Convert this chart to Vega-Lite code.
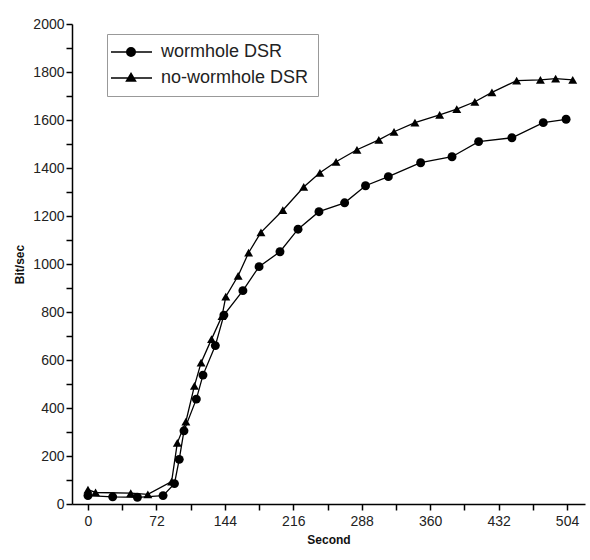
{
  "$schema": "https://vega.github.io/schema/vega-lite/v6.json",
  "width": 513,
  "height": 480,
  "autosize": {"type": "none"},
  "padding": {"left": 72, "top": 24, "right": 5, "bottom": 56},
  "background": "white",
  "config": {
    "view": {"stroke": null},
    "font": "Liberation Sans",
    "axis": {
      "domainColor": "black",
      "domainWidth": 1.5,
      "tickColor": "black",
      "tickWidth": 1.5,
      "tickSize": 6,
      "grid": false,
      "labelFont": "Liberation Sans",
      "labelFontSize": 14,
      "labelColor": "#222",
      "titleFont": "Liberation Sans",
      "titleFontSize": 12,
      "titleFontWeight": "bold",
      "titleColor": "#111"
    }
  },
  "data": {
    "values": [
      {"series": "wormhole DSR", "second": 0, "rate": 35},
      {"series": "wormhole DSR", "second": 26, "rate": 30},
      {"series": "wormhole DSR", "second": 52, "rate": 28},
      {"series": "wormhole DSR", "second": 79, "rate": 35},
      {"series": "wormhole DSR", "second": 91, "rate": 85},
      {"series": "wormhole DSR", "second": 96, "rate": 186},
      {"series": "wormhole DSR", "second": 101, "rate": 305},
      {"series": "wormhole DSR", "second": 114, "rate": 437},
      {"series": "wormhole DSR", "second": 121, "rate": 537},
      {"series": "wormhole DSR", "second": 134, "rate": 660},
      {"series": "wormhole DSR", "second": 143, "rate": 787},
      {"series": "wormhole DSR", "second": 163, "rate": 889},
      {"series": "wormhole DSR", "second": 180, "rate": 989},
      {"series": "wormhole DSR", "second": 202, "rate": 1051},
      {"series": "wormhole DSR", "second": 221, "rate": 1145},
      {"series": "wormhole DSR", "second": 243, "rate": 1218},
      {"series": "wormhole DSR", "second": 270, "rate": 1255},
      {"series": "wormhole DSR", "second": 292, "rate": 1326},
      {"series": "wormhole DSR", "second": 316, "rate": 1364},
      {"series": "wormhole DSR", "second": 350, "rate": 1422},
      {"series": "wormhole DSR", "second": 383, "rate": 1447},
      {"series": "wormhole DSR", "second": 411, "rate": 1510},
      {"series": "wormhole DSR", "second": 446, "rate": 1526},
      {"series": "wormhole DSR", "second": 479, "rate": 1589},
      {"series": "wormhole DSR", "second": 503, "rate": 1603},
      {"series": "no-wormhole DSR", "second": 0, "rate": 60},
      {"series": "no-wormhole DSR", "second": 8, "rate": 48},
      {"series": "no-wormhole DSR", "second": 45, "rate": 45},
      {"series": "no-wormhole DSR", "second": 63, "rate": 40},
      {"series": "no-wormhole DSR", "second": 88, "rate": 93},
      {"series": "no-wormhole DSR", "second": 94, "rate": 255},
      {"series": "no-wormhole DSR", "second": 103, "rate": 343},
      {"series": "no-wormhole DSR", "second": 112, "rate": 492},
      {"series": "no-wormhole DSR", "second": 119, "rate": 589},
      {"series": "no-wormhole DSR", "second": 130, "rate": 687},
      {"series": "no-wormhole DSR", "second": 141, "rate": 783},
      {"series": "no-wormhole DSR", "second": 145, "rate": 864},
      {"series": "no-wormhole DSR", "second": 158, "rate": 951},
      {"series": "no-wormhole DSR", "second": 169, "rate": 1047},
      {"series": "no-wormhole DSR", "second": 182, "rate": 1132},
      {"series": "no-wormhole DSR", "second": 205, "rate": 1224},
      {"series": "no-wormhole DSR", "second": 227, "rate": 1321},
      {"series": "no-wormhole DSR", "second": 244, "rate": 1380},
      {"series": "no-wormhole DSR", "second": 261, "rate": 1426},
      {"series": "no-wormhole DSR", "second": 283, "rate": 1476},
      {"series": "no-wormhole DSR", "second": 306, "rate": 1517},
      {"series": "no-wormhole DSR", "second": 322, "rate": 1551},
      {"series": "no-wormhole DSR", "second": 344, "rate": 1589},
      {"series": "no-wormhole DSR", "second": 370, "rate": 1621},
      {"series": "no-wormhole DSR", "second": 388, "rate": 1645},
      {"series": "no-wormhole DSR", "second": 407, "rate": 1676},
      {"series": "no-wormhole DSR", "second": 425, "rate": 1715},
      {"series": "no-wormhole DSR", "second": 451, "rate": 1764},
      {"series": "no-wormhole DSR", "second": 476, "rate": 1767},
      {"series": "no-wormhole DSR", "second": 492, "rate": 1772},
      {"series": "no-wormhole DSR", "second": 510, "rate": 1767}
    ]
  },
  "encoding": {
    "x": {
      "field": "second",
      "type": "quantitative",
      "scale": {"domain": [-16.8, 522.9], "nice": false, "zero": false},
      "axis": {
        "title": "Second",
        "values": [0, 36, 72, 108, 144, 180, 216, 252, 288, 324, 360, 396, 432, 468, 504],
        "labelExpr": "datum.value % 72 === 0 ? datum.label : ''",
        "labelPadding": 4,
        "titlePadding": 6,
        "labelFlush": false
      }
    },
    "y": {
      "field": "rate",
      "type": "quantitative",
      "scale": {"domain": [0, 2000], "nice": false},
      "axis": {
        "title": "Bit/sec",
        "format": "d",
        "values": [0, 100, 200, 300, 400, 500, 600, 700, 800, 900, 1000, 1100, 1200, 1300, 1400, 1500, 1600, 1700, 1800, 1900, 2000],
        "labelExpr": "datum.value % 200 === 0 ? datum.label : ''",
        "labelPadding": 2,
        "titlePadding": 6,
        "labelFlush": false
      }
    }
  },
  "layer": [
    {
      "mark": {"type": "line", "color": "black", "strokeWidth": 1.3},
      "encoding": {
        "detail": {"field": "series"},
        "order": {"field": "second"}
      }
    },
    {
      "mark": {"type": "point", "filled": true, "color": "black", "opacity": 1, "size": 80},
      "encoding": {
        "shape": {
          "field": "series",
          "type": "nominal",
          "scale": {"domain": ["wormhole DSR", "no-wormhole DSR"], "range": ["circle", "triangle-up"]},
          "legend": null
        }
      }
    },
    {
      "mark": {"type": "point", "filled": false, "stroke": "black", "strokeWidth": 1.5, "opacity": 0, "size": 100},
      "encoding": {
        "shape": {
          "field": "series",
          "type": "nominal",
          "scale": {
            "domain": ["wormhole DSR", "no-wormhole DSR"],
            "range": [
              "M-2.8,0H5.4M0.35,0A0.85,0.85 0 1,1 2.05,0A0.85,0.85 0 1,1 0.35,0ZM0.55,0A0.65,0.65 0 1,1 1.85,0A0.65,0.65 0 1,1 0.55,0ZM0.75,0A0.45,0.45 0 1,1 1.65,0A0.45,0.45 0 1,1 0.75,0ZM0.95,0A0.25,0.25 0 1,1 1.45,0A0.25,0.25 0 1,1 0.95,0ZM1.12,0A0.08,0.08 0 1,1 1.28,0A0.08,0.08 0 1,1 1.12,0Z",
              "M-2.8,0H5.4M1.2,-0.9L2.1,0.6L0.3,0.6ZM1.2,-0.55L1.785,0.425L0.615,0.425ZM1.2,-0.25L1.515,0.275L0.885,0.275ZM1.2,0L1.29,0.15L1.11,0.15Z"
            ]
          },
          "legend": {
            "title": null,
            "orient": "none",
            "legendX": 35,
            "legendY": 10,
            "strokeColor": "#999",
            "fillColor": "white",
            "padding": 9,
            "symbolSize": 100,
            "symbolOpacity": 1,
            "symbolFillColor": "black",
            "symbolStrokeColor": "black",
            "symbolStrokeWidth": 1.5,
            "labelFont": "Liberation Sans",
            "labelFontSize": 18,
            "labelColor": "#222",
            "labelOffset": 27,
            "rowPadding": 8,
            "encode": {
              "symbols": {
                "stroke": {"value": "black"},
                "strokeWidth": {"value": 1.5},
                "strokeOpacity": {"value": 1},
                "opacity": {"value": 1}
              }
            }
          }
        }
      }
    }
  ],
  "resolve": {"scale": {"shape": "independent"}, "legend": {"shape": "independent"}}
}
